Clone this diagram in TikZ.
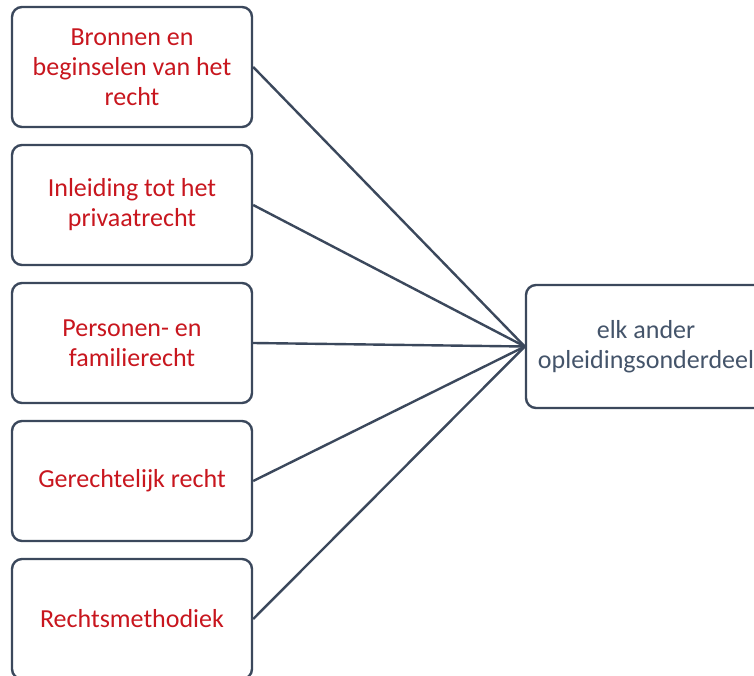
\documentclass[tikz,border=0pt]{standalone}
\usepackage{fontspec}
\setmainfont{Carlito}
\definecolor{edge}{RGB}{59,72,92}
\definecolor{redtxt}{RGB}{200,22,30}
\definecolor{graytxt}{RGB}{68,84,106}
\begin{document}
\begin{tikzpicture}[x=1pt,y=-1pt,
  box/.style={draw=edge, line width=2.4pt, rounded corners=10pt, fill=white,
    minimum width=240pt, minimum height=120pt, align=center, inner sep=0pt,
    font=\fontsize{26}{30}\selectfont},
  lbox/.style={box, text=redtxt},
  rbox/.style={box, text=graytxt, minimum height=123pt},
  conn/.style={draw=edge, line width=2.4pt}]
\clip (0,0) rectangle (754,676);
\fill[white] (0,0) rectangle (754,676);
\node[lbox] (b1) at (132,67) {Bronnen en\\beginselen van het\\recht};
\node[lbox] (b2) at (132,205) {Inleiding tot het\\privaatrecht};
\node[lbox] (b3) at (132,343) {Personen- en\\familierecht};
\node[lbox] (b4) at (132,481) {Gerechtelijk recht};
\node[lbox] (b5) at (132,619) {Rechtsmethodiek};
\node[rbox] (r) at (646,346.5) {elk ander\\opleidingsonderdeel};
\foreach \b in {b1,b2,b3,b4,b5}
  \draw[conn] (\b.east) -- (r.west);
\end{tikzpicture}
\end{document}
